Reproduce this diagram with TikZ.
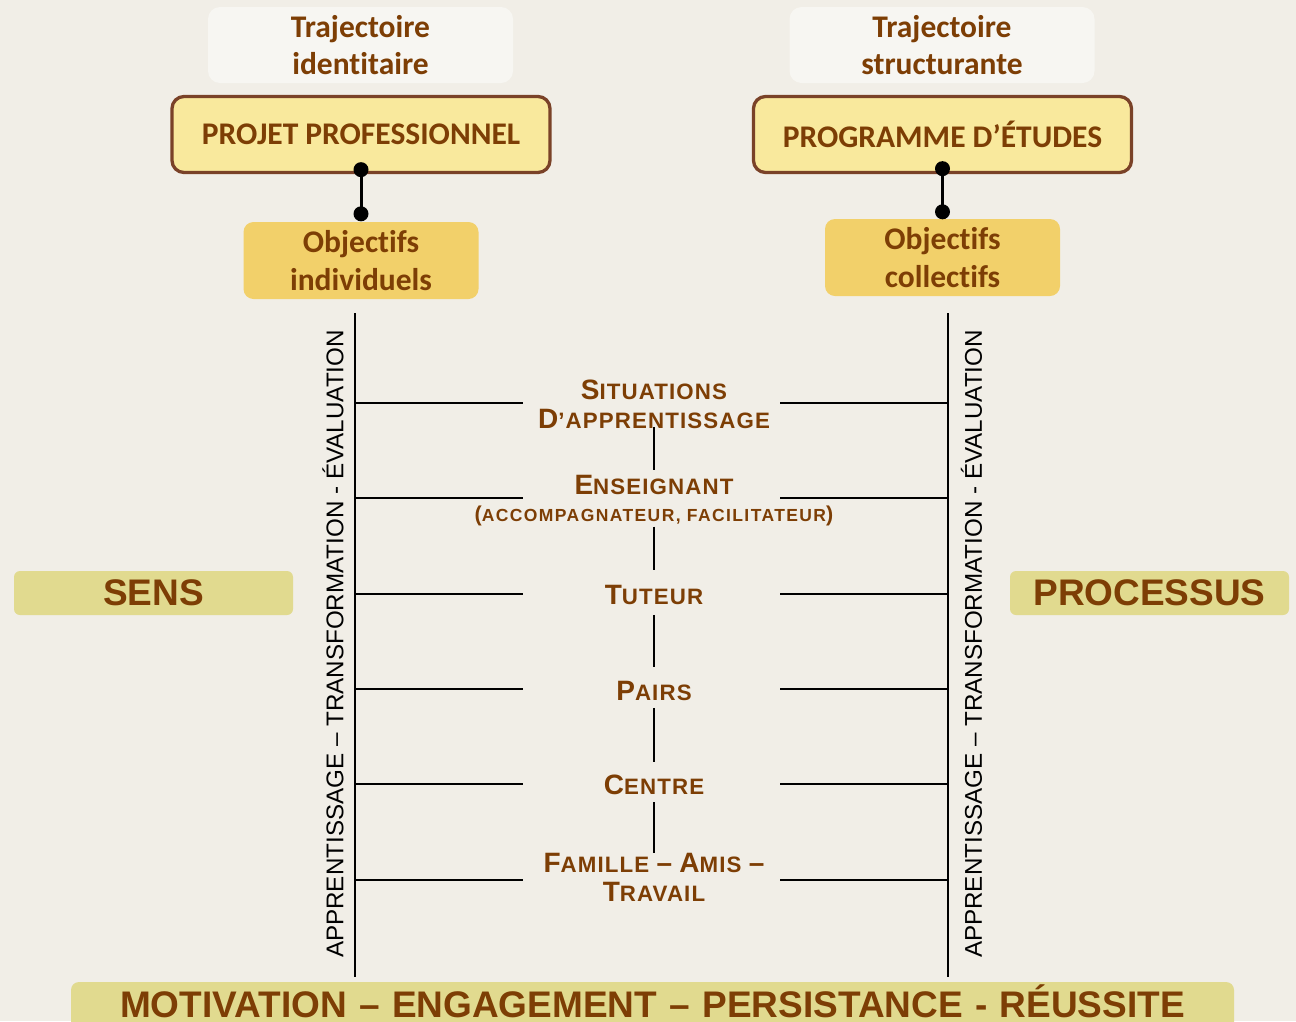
\documentclass[tikz,border=0pt]{standalone}
\usepackage{fontspec}
\setmainfont{Liberation Sans}
\newfontfamily\titrefont{Carlito}[Ligatures=NoCommon]
\newfontfamily\etiqfont{Liberation Sans}[LetterSpace=5]
\usetikzlibrary{calc}

\definecolor{fond}{RGB}{241,238,231}
\definecolor{brun}{RGB}{125,62,5}
\definecolor{bordure}{RGB}{122,66,40}
\definecolor{blanc}{RGB}{247,246,242}
\definecolor{jaune}{RGB}{249,233,157}
\definecolor{ocre}{RGB}{242,208,106}
\definecolor{olive}{RGB}{225,218,143}

% petites capitales : la premiere lettre plus grande
\newcommand{\pcap}[2]{{\fontsize{28}{29}\selectfont #1}#2}
\newcommand{\grand}[1]{{\fontsize{28}{29}\selectfont #1}}
\newcommand{\paren}[1]{{\fontsize{21.5}{29}\selectfont #1}}

\begin{document}
\begin{tikzpicture}[x=1pt,y=-1pt,
  traj/.style={fill=blanc, rounded corners=12pt, minimum width=305pt, minimum height=76pt,
    inner sep=0pt, align=center, text=brun, font=\titrefont\bfseries\fontsize{31.5}{37}\selectfont},
  prog/.style={draw=bordure, line width=3.3pt, fill=jaune, rounded corners=12pt,
    minimum width=378pt, minimum height=76pt, inner sep=0pt, text=brun,
    font=\titrefont\bfseries\fontsize{31.5}{37}\selectfont},
  obj/.style={fill=ocre, rounded corners=10pt, minimum width=235pt, minimum height=77pt,
    inner sep=0pt, align=center, text=brun, font=\titrefont\bfseries\fontsize{31.5}{38}\selectfont},
  bande/.style={fill=olive, rounded corners=6pt, minimum width=279pt, minimum height=44pt,
    inner sep=0pt, text=brun, font=\bfseries\fontsize{37}{40}\selectfont},
  etiq/.style={inner sep=0pt, align=center, text=brun,
    font=\etiqfont\bfseries\fontsize{22.3}{29}\selectfont},
  axe/.style={rotate=90, inner sep=0pt, font=\fontsize{24.2}{26}\selectfont},
  rail/.style={line width=2.3pt},
  lien/.style={line width=3pt},
  tige/.style={line width=2.3pt}
]
\useasboundingbox (0,0) rectangle (1296,1021);
\clip (0,0) rectangle (1296,1021);
\fill[fond] (0,0) rectangle (1296,1021);
% les deux trajectoires
\node[traj] (trajI) at (360.5,45) {Trajectoire\\identitaire};
\node[traj] (trajS) at (942,45) {Trajectoire\\structurante};
\node[prog] (projet) at (361,134.5) {PROJET PROFESSIONNEL};
\node[prog] (programme) at (942.5,134.5) {PROGRAMME D’ÉTUDES};
\node[obj] (objI) at (361,260.5) {Objectifs\\individuels};
\node[obj] (objC) at (942.5,257.5) {Objectifs\\collectifs};
% liens a points
\draw[lien] ([yshift=4.5pt]projet.south) coordinate (pI1) -- ([yshift=8pt]objI.north) coordinate (pI2);
\draw[lien] ([yshift=5.5pt]programme.south) coordinate (pC1) -- ([yshift=7pt]objC.north) coordinate (pC2);
\foreach \p in {pI1,pI2,pC1,pC2}
  \fill (\p) circle (7.5pt);
% bandes laterales et bas
\node[bande] (sens) at (153.5,593) {SENS};
\node[bande] (processus) at (1149.5,593) {PROCESSUS};
\node[bande, anchor=base, text width=1163pt, align=center, text height=35pt, text depth=13pt,
  rounded corners=8pt] (motiv) at (652.5,1017)
  {MOTIVATION – ENGAGEMENT – PERSISTANCE - RÉUSSITE};
% les deux axes
\coordinate (gH) at (355,313);
\coordinate (gB) at (355,977);
\coordinate (dH) at (948,313);
\coordinate (dB) at (948,977);
\draw[rail] (gH) -- (gB);
\draw[rail] (dH) -- (dB);
\node[axe] (axeG) at (333,644) {APPRENTISSAGE – TRANSFORMATION - ÉVALUATION};
\node[axe] (axeD) at (971.5,644) {APPRENTISSAGE – TRANSFORMATION - ÉVALUATION};
% barreaux
\foreach \y [count=\i] in {403,498,594,689,784,880}{
  \coordinate (gA\i) at (355,\y);
  \coordinate (gC\i) at (523,\y);
  \coordinate (dA\i) at (780,\y);
  \coordinate (dC\i) at (948,\y);
  \draw[rail] (gA\i) -- (gC\i);
  \draw[rail] (dA\i) -- (dC\i);
}
% colonne du milieu
\node[etiq] (sit) at (654,404.5) {\pcap{S}{ITUATIONS}\\\pcap{D}{’APPRENTISSAGE}};
\node[etiq] (ens) at (654,501) {\pcap{E}{NSEIGNANT}\\[-2pt]{\fontsize{17.5}{29}\selectfont\addfontfeature{LetterSpace=8}\paren{(}ACCOMPAGNATEUR, FACILITATEUR\paren{)}}};
\node[etiq] (tut) at (654,595) {\pcap{T}{UTEUR}};
\node[etiq] (pairs) at (654,691) {\pcap{P}{AIRS}};
\node[etiq] (centre) at (654,785) {\pcap{C}{ENTRE}};
\node[etiq] (fam) at (654,877.5) {\pcap{F}{AMILLE} \grand{–} \pcap{A}{MIS} \grand{–}\\\pcap{T}{RAVAIL}};
\foreach \a/\b/\s/\e in {sit/ens/-2/5, ens/tut/0/15, tut/pairs/10/14, pairs/centre/7/13, centre/fam/7/0}
  \draw[tige, shorten <=\s pt, shorten >=\e pt] (\a.south) -- (\b.north);
\end{tikzpicture}
\end{document}
